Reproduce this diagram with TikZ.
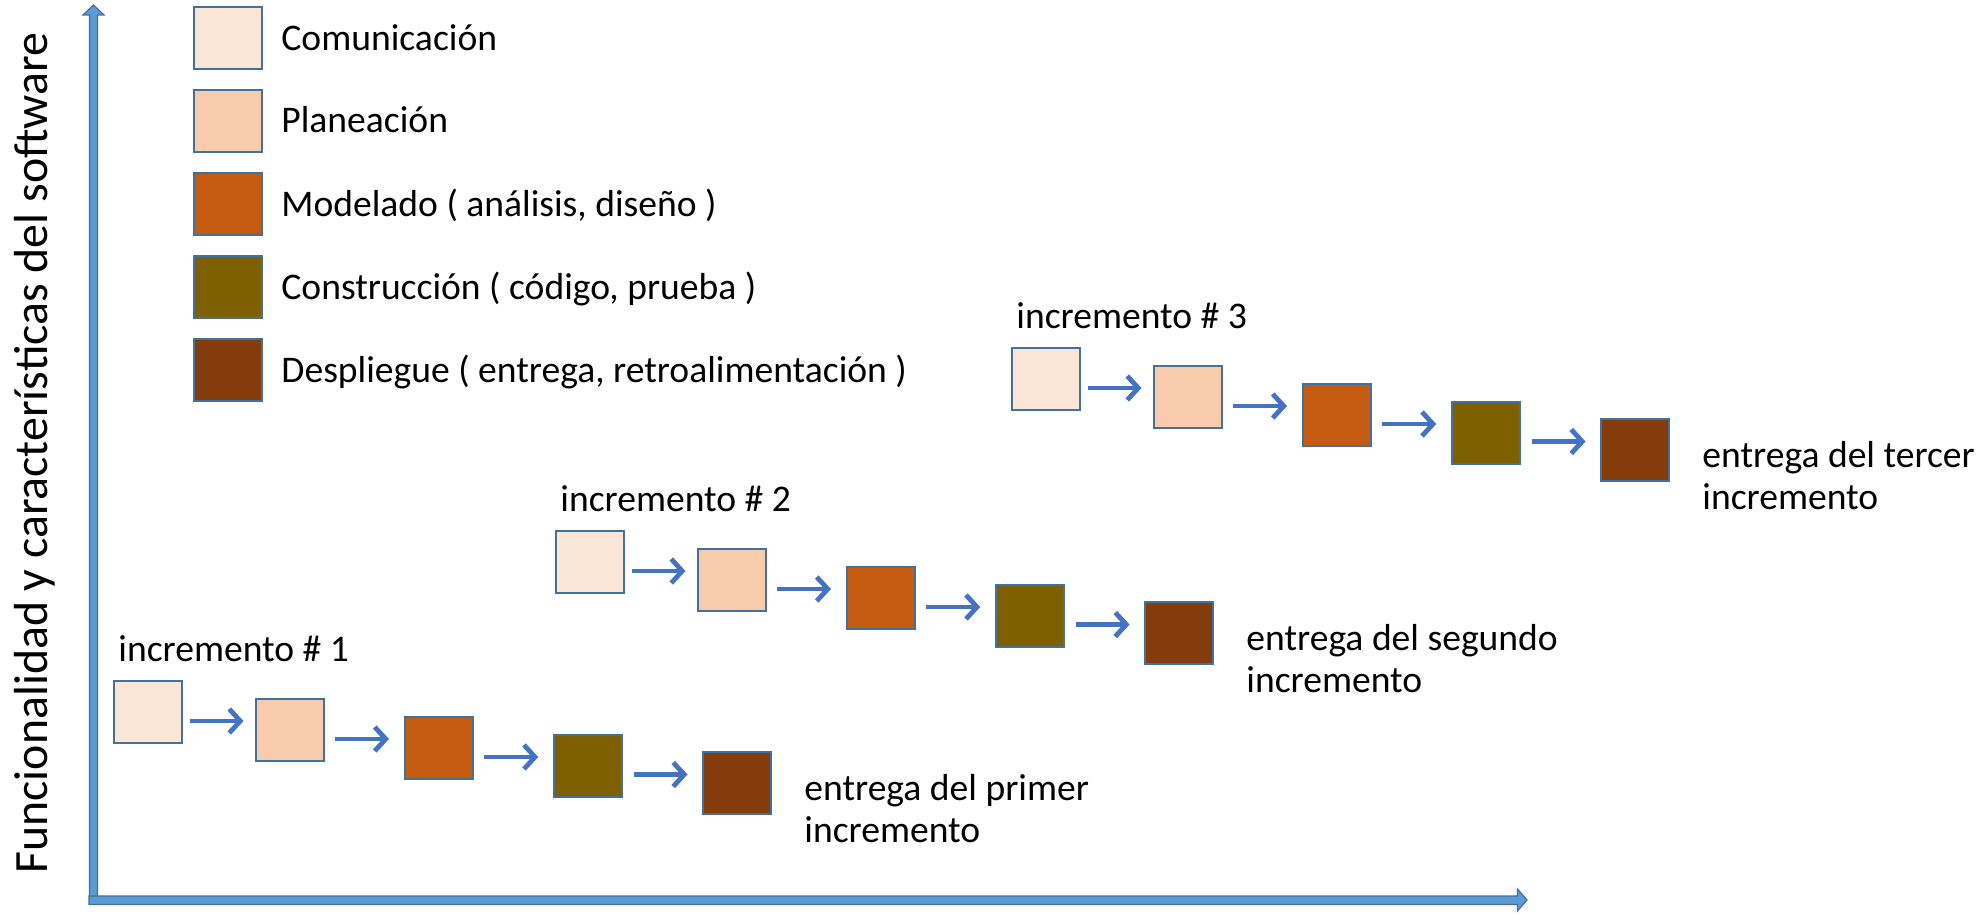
\documentclass[tikz,border=0pt]{standalone}
\usepackage{fontspec}
\setmainfont{Carlito}
\usetikzlibrary{arrows.meta,calc}
\definecolor{cCom}{HTML}{FBE5D6}
\definecolor{cPla}{HTML}{F8CBAD}
\definecolor{cMod}{HTML}{C55A11}
\definecolor{cCon}{HTML}{7F6000}
\definecolor{cDes}{HTML}{843C0C}
\definecolor{bord}{HTML}{41719C}
\definecolor{axfill}{HTML}{5B9BD5}
\definecolor{arrc}{HTML}{4472C4}
\newcommand{\incrow}[2]{%
  \node[com] (b1) at (147.5,712) {};
  \node[pla] (b2) at (289.5,730) {};
  \node[mod] (b3) at (438.5,748) {};
  \node[con] (b4) at (588,766) {};
  \node[des] (b5) at (737,783) {};
  \foreach \a/\b in {b1/b2,b2/b3,b3/b4,b4/b5}{
    \draw[flow] ($(\a.east)!0.5!(\b.west)+(-29,0)$) -- ($(\a.east)!0.5!(\b.west)+(25,0)$);
  }
  \node[txt] (lab) at (118,661) {incremento \# #1};
  \node[txt,align=left,font=\fontsize{18.8}{21}\selectfont] (ent) at (804,842) {entrega del #2\\incremento};
}
\begin{document}
\begin{tikzpicture}[x=0.5pt,y=-0.5pt,
  phase/.style={draw=bord,line width=1pt,minimum width=34pt,minimum height=31pt,inner sep=0pt},
  com/.style={phase,fill=cCom},
  pla/.style={phase,fill=cPla},
  mod/.style={phase,fill=cMod},
  con/.style={phase,fill=cCon},
  des/.style={phase,fill=cDes},
  txt/.style={font=\fontsize{18.8}{22.5}\selectfont,inner sep=0pt,anchor=base west},
  flow/.style={draw=arrc,line width=2.4pt,-{Straight Barb[length=5.5pt,width=12pt]}},
  axis/.style={fill=axfill,draw=bord,line width=0.6pt}]
\useasboundingbox (0,0) rectangle (1985,915);

% axes
\path[axis] (89.5,897) -- (89.5,15) -- (83,15) -- (93.5,5) -- (104,15) -- (97.5,15) -- (97.5,897) -- cycle;
\path[axis] (89,896) -- (1517.5,896) -- (1517.5,889) -- (1527,900) -- (1517.5,911) -- (1517.5,904.5) -- (89,904.5) -- cycle;

\node[font=\fontsize{23.9}{28}\selectfont,rotate=90,anchor=base,inner sep=0pt] (ylab) at (47,453) {Funcionalidad y características del software};

% legend
\node[com] (l1) at (228,38.5) {};
\node[pla] (l2) at (228,121) {};
\node[mod] (l3) at (228,204) {};
\node[con] (l4) at (228,287) {};
\node[des] (l5) at (228,370) {};
\node[txt] (t1) at (281,50.5) {Comunicación};
\node[txt] (t2) at (281,133) {Planeación};
\node[txt] (t3) at (281,216) {Modelado ( análisis, diseño )};
\node[txt] (t4) at (281,299) {Construcción ( código, prueba )};
\node[txt] (t5) at (281,382) {Despliegue ( entrega, retroalimentación )};

\begin{scope}[name prefix=i1-]
\incrow{1}{primer}
\end{scope}
\begin{scope}[shift={(442,-150)},name prefix=i2-]
\incrow{2}{segundo}
\end{scope}
\begin{scope}[shift={(898,-333)},name prefix=i3-]
\incrow{3}{tercer}
\end{scope}
\end{tikzpicture}
\end{document}
